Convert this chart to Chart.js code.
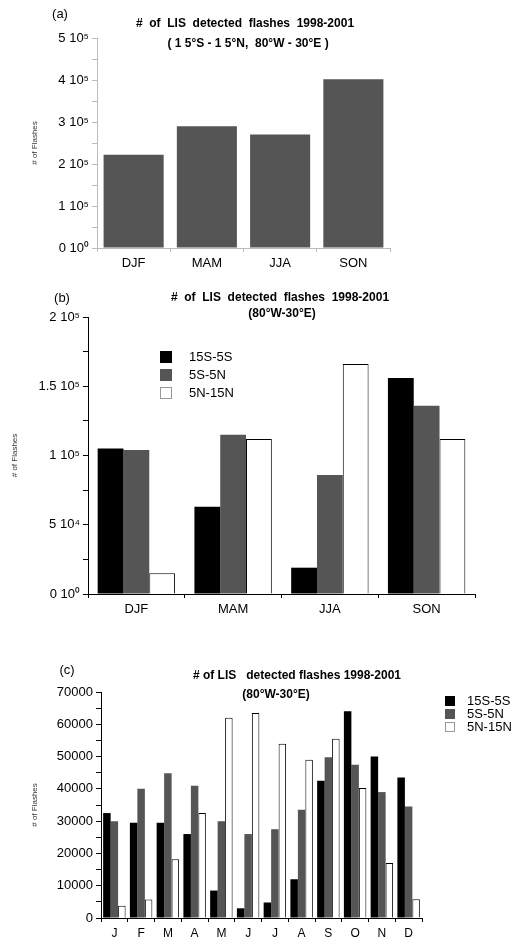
<!DOCTYPE html>
<html><head><meta charset="utf-8">
<script src="https://cdn.jsdelivr.net/npm/chart.js@4"></script>
<style>body{margin:0;background:#fff;width:527px;height:945px;position:relative;overflow:hidden}
canvas{position:absolute;left:0}</style></head><body>
<div id="wa" style="position:absolute;left:0;top:0;width:527px;height:285px"><canvas id="ca"></canvas></div>
<div id="wb" style="position:absolute;left:0;top:290px;width:527px;height:330px"><canvas id="cb"></canvas></div>
<div id="wc" style="position:absolute;left:0;top:630px;width:527px;height:315px"><canvas id="cc"></canvas></div>
<script>
const seasons = ["DJF","MAM","JJA","SON"];
const months = ["J","F","M","A","M","J","J","A","S","O","N","D"];
const seriesNames = ["15S-5S","5S-5N","5N-15N"];
const totalA = [222000,290000,270000,402000];
const seasS = [105000,63000,19000,156000];
const seasE = [104000,115000,86000,136000];
const seasN = [15000,112000,166000,112000];
const monS = [32500,29500,29500,26000,8500,3000,4800,12000,42500,64000,50000,43500];
const monE = [30000,40000,44800,41000,30000,26000,27500,33500,49800,47500,39000,34500];
const monN = [3800,5700,18200,32500,62000,63500,54000,49000,55500,40300,17000,5800];
const sup = {"0":"⁰","4":"⁴","5":"⁵"};
function sci(v){ if(v===0) return "0 10⁰"; const e=Math.floor(Math.log10(v)+1e-9); const m=+(v/Math.pow(10,e)).toFixed(2); return m+" 10"+sup[String(e)]; }
const F = "Liberation Sans, Arial, sans-serif";
function textPlugin(items){ return {id:'txt', afterDraw(c){ const x=c.ctx; x.save(); items.forEach(t=>{ x.font=t.f; x.fillStyle='#000'; x.textAlign=t.a||'center'; x.textBaseline='middle'; x.fillText(t.s,t.x,t.y);}); x.restore(); }}; }
function legendPlugin(x0,y0,dy,sz,font){ return {id:'lg', afterDraw(c){ const x=c.ctx; x.save(); const fills=['#000','#555','#fff']; seriesNames.forEach((n,i)=>{ const y=y0+i*dy; x.fillStyle=fills[i]; x.fillRect(x0,y,sz,sz); x.strokeStyle= i==2?'#999':'#000'; x.lineWidth=1; if(i==2) x.strokeRect(x0+0.5,y+0.5,sz-1,sz-1); x.fillStyle='#000'; x.font=font; x.textAlign='left'; x.textBaseline='middle'; x.fillText(n,x0+sz+(sz>10?17:12),y+sz/2);}); x.restore(); }}; }
function mk(id, labels, datasets, o){
  new Chart(document.getElementById(id), {type:'bar', data:{labels, datasets},
   options:{responsive:true, maintainAspectRatio:false, animation:false,
    layout:{padding:{left:o.left,right:o.right,top:o.top,bottom:0}},
    plugins:{legend:{display:false},tooltip:{enabled:false}},
    scales:{
     x:{offset:true, afterFit:s=>{s.height=o.xh;}, border:{color:o.axc,width:1},
        grid:{display:true,drawOnChartArea:false,offset:true,tickLength:4,color:o.axc},
        ticks:{color:'#000',font:{family:F,size:o.xf},padding:4}},
     y:{min:0,max:o.max, afterFit:s=>{s.width=o.yw;}, border:{color:o.axc,width:1},
        grid:{display:true,drawOnChartArea:false,tickLength:5,color:o.axc},
        ticks:{stepSize:o.step,autoSkip:false,color:'#000',font:{family:F,size:o.yf},padding:3,
          callback:v=> (Math.round(v/o.major)*o.major===v) ? o.fmt(v) : ''},
        title:{display:true,text:'# of Flashes',font:{family:F,size:8},color:'#333',padding:0}}
    }}, plugins:o.plugins});
}
mk('ca', seasons, [{data:totalA, backgroundColor:'#555', borderWidth:0, barPercentage:0.82, categoryPercentage:1}],
 {left:30,right:137,top:38,xh:37,yw:67,xf:13,yf:13,max:500000,step:50000,major:100000,fmt:sci,axc:'#bbb',
  plugins:[textPlugin([{s:'(a)',x:60,y:14,f:'13px '+F},{s:'#  of  LIS  detected  flashes  1998-2001',x:245,y:24,f:'bold 12px '+F},{s:'( 1 5°S - 1 5°N,  80°W - 30°E )',x:248,y:44,f:'bold 12px '+F}])]});
const ds=(d,c,bc)=>({data:d,backgroundColor:c,borderColor:bc,borderWidth:c=='#fff'?1:0,barPercentage:1,categoryPercentage:0.8});
mk('cb', seasons, [ds(seasS,'#000','#000'),ds(seasE,'#555','#555'),ds(seasN,'#fff','#000')],
 {left:10,right:52,top:27,xh:26,yw:78,xf:13,yf:13,max:200000,step:25000,major:50000,fmt:sci,axc:'#000',
  plugins:[textPlugin([{s:'(b)',x:62,y:8,f:'13px '+F},{s:'#  of  LIS  detected  flashes  1998-2001',x:280,y:8,f:'bold 12px '+F},{s:'(80°W-30°E)',x:282,y:24,f:'bold 12px '+F}]),legendPlugin(160,61,18,12,'13px '+F)]});
mk('cc', months, [ds(monS,'#000','#000'),ds(monE,'#555','#555'),ds(monN,'#fff','#000')].map(d=>Object.assign(d,{categoryPercentage:0.84})),
 {left:30,right:105,top:62,xh:27,yw:71,xf:12,yf:13,max:70000,step:5000,major:10000,fmt:v=>String(v),axc:'#000',
  plugins:[textPlugin([{s:'(c)',x:67,y:40,f:'13px '+F},{s:'# of LIS   detected flashes 1998-2001',x:297,y:46,f:'bold 12px '+F},{s:'(80°W-30°E)',x:276,y:65,f:'bold 12px '+F}]),legendPlugin(445,66,13,10,'13px '+F)]});
</script></body></html>
